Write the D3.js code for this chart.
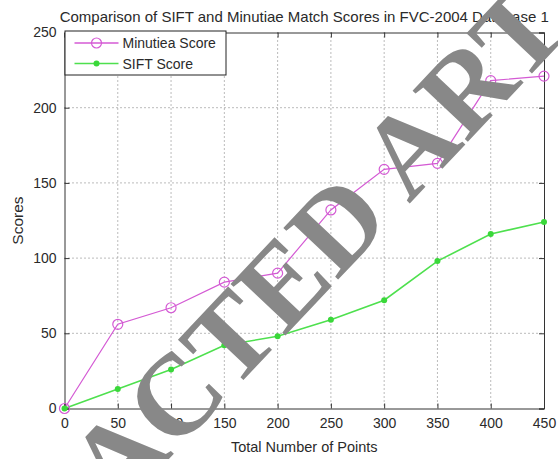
<!DOCTYPE html>
<html>
<head>
<meta charset="utf-8">
<script src="https://cdn.jsdelivr.net/npm/d3@7"></script>
<style>
  body { margin: 0; background: #fff; }
  text { font-family: Arial, 'Liberation Sans', sans-serif; fill: #2a2a2a; }
</style>
</head>
<body>
<div id="chart"></div>
<script>
let points = [0, 50, 100, 150, 200, 250, 300, 350, 400, 450]
let minutiaeScore = [0, 56, 67, 84, 90, 132, 159, 163, 218, 221]
let siftScore = [0, 13, 26, 42, 48, 59, 72, 98, 116, 124]
let xTicks = [0, 50, 100, 150, 200, 250, 300, 350, 400, 450]
let yTicks = [0, 50, 100, 150, 200, 250]

let W = 558
let H = 459
let margin = { top: 32.5, left: 64.5, right: 14, bottom: 50.5 }
let width = W - margin.left - margin.right
let height = H - margin.top - margin.bottom

let svg = d3.select('#chart')
  .append('svg')
  .attr('width', W)
  .attr('height', H)

let g = svg.append('g')
  .attr('transform', 'translate(' + margin.left + ',' + margin.top + ')')

let x = d3.scaleLinear().domain([0, 450]).range([0, width])
let y = d3.scaleLinear().domain([0, 250]).range([height, 0])

// dotted grid
g.selectAll('.gx')
  .data(xTicks.slice(1, -1))
  .enter()
  .append('line')
  .attr('x1', d => x(d)).attr('x2', d => x(d))
  .attr('y1', 0).attr('y2', height)
  .attr('stroke', '#777')
  .attr('stroke-dasharray', '1,3')

g.selectAll('.gy')
  .data(yTicks.slice(1, -1))
  .enter()
  .append('line')
  .attr('x1', 0).attr('x2', width)
  .attr('y1', d => y(d)).attr('y2', d => y(d))
  .attr('stroke', '#777')
  .attr('stroke-dasharray', '1,3')

// axes, ticks pointing inward like matlab
g.append('g')
  .attr('transform', 'translate(0,' + height + ')')
  .call(d3.axisBottom(x).tickValues(xTicks).tickSize(-5).tickPadding(10))
g.append('g')
  .call(d3.axisTop(x).tickValues(xTicks).tickSize(-5).tickFormat(''))
g.append('g')
  .call(d3.axisLeft(y).tickValues(yTicks).tickSize(-5).tickPadding(8))
g.append('g')
  .attr('transform', 'translate(' + width + ',0)')
  .call(d3.axisRight(y).tickValues(yTicks).tickSize(-5).tickFormat(''))

g.selectAll('.domain').attr('stroke', '#333')
g.selectAll('.tick line').attr('stroke', '#333')
g.selectAll('.tick text')
  .style('font-family', 'Arial, sans-serif')
  .style('font-size', '14px')
  .attr('fill', '#2a2a2a')

// lines
let line = d3.line()
  .x((d, i) => x(points[i]))
  .y(d => y(d))

g.append('path')
  .datum(minutiaeScore)
  .attr('d', line)
  .attr('fill', 'none')
  .attr('stroke', '#d45ad4')
  .attr('stroke-width', 1.2)

g.append('path')
  .datum(siftScore)
  .attr('d', line)
  .attr('fill', 'none')
  .attr('stroke', '#4ee04e')
  .attr('stroke-width', 1.6)

g.selectAll('.mpt')
  .data(minutiaeScore)
  .enter()
  .append('circle')
  .attr('cx', (d, i) => x(points[i]))
  .attr('cy', d => y(d))
  .attr('r', 5)
  .attr('fill', 'none')
  .attr('stroke', '#d45ad4')
  .attr('stroke-width', 1.2)

g.selectAll('.spt')
  .data(siftScore)
  .enter()
  .append('circle')
  .attr('cx', (d, i) => x(points[i]))
  .attr('cy', d => y(d))
  .attr('r', 3)
  .attr('fill', '#3ad83a')

// legend
let legend = g.append('g').attr('transform', 'translate(0,-1.5)')
legend.append('rect')
  .attr('x', 0.5).attr('y', 0)
  .attr('width', 161).attr('height', 44)
  .attr('fill', '#fff')
  .attr('stroke', '#222')

let legendItems = [
  { name: 'Minutiea Score', color: '#d45ad4', marker: 'circle' },
  { name: 'SIFT Score', color: '#4ee04e', marker: 'dot' }
]
legendItems.forEach((item, i) => {
  let ly = 12 + i * 20.5
  legend.append('line')
    .attr('x1', 10).attr('x2', 54)
    .attr('y1', ly).attr('y2', ly)
    .attr('stroke', item.color)
    .attr('stroke-width', 1.3)
  if (item.marker === 'circle') {
    legend.append('circle')
      .attr('cx', 32).attr('cy', ly).attr('r', 5)
      .attr('fill', 'none').attr('stroke', item.color).attr('stroke-width', 1.2)
  } else {
    legend.append('circle')
      .attr('cx', 32).attr('cy', ly).attr('r', 3)
      .attr('fill', '#3ad83a')
  }
  legend.append('text')
    .attr('x', 58).attr('y', ly + 5)
    .style('font-size', '14px')
    .text(item.name)
})

// titles
svg.append('text')
  .attr('x', margin.left + width / 2)
  .attr('y', 22)
  .attr('text-anchor', 'middle')
  .style('font-size', '15px')
  .text('Comparison of SIFT and Minutiae Match Scores in FVC-2004 Database 1')

svg.append('text')
  .attr('x', margin.left + width / 2)
  .attr('y', 452)
  .attr('text-anchor', 'middle')
  .style('font-size', '14.5px')
  .text('Total Number of Points')

svg.append('text')
  .attr('transform', 'translate(23,' + (margin.top + height / 2) + ') rotate(-90)')
  .attr('text-anchor', 'middle')
  .style('font-size', '15.5px')
  .text('Scores')

// watermark
svg.append('text')
  .attr('transform', 'translate(332,286) rotate(-46.7)')
  .attr('text-anchor', 'middle')
  .style('font-family', "'Liberation Serif', 'Times New Roman', serif")
  .style('font-weight', 'bold')
  .style('font-size', '115px')
  .style('fill', '#888')
  .text('RETRACTED ARTICLE')
</script>
</body>
</html>
